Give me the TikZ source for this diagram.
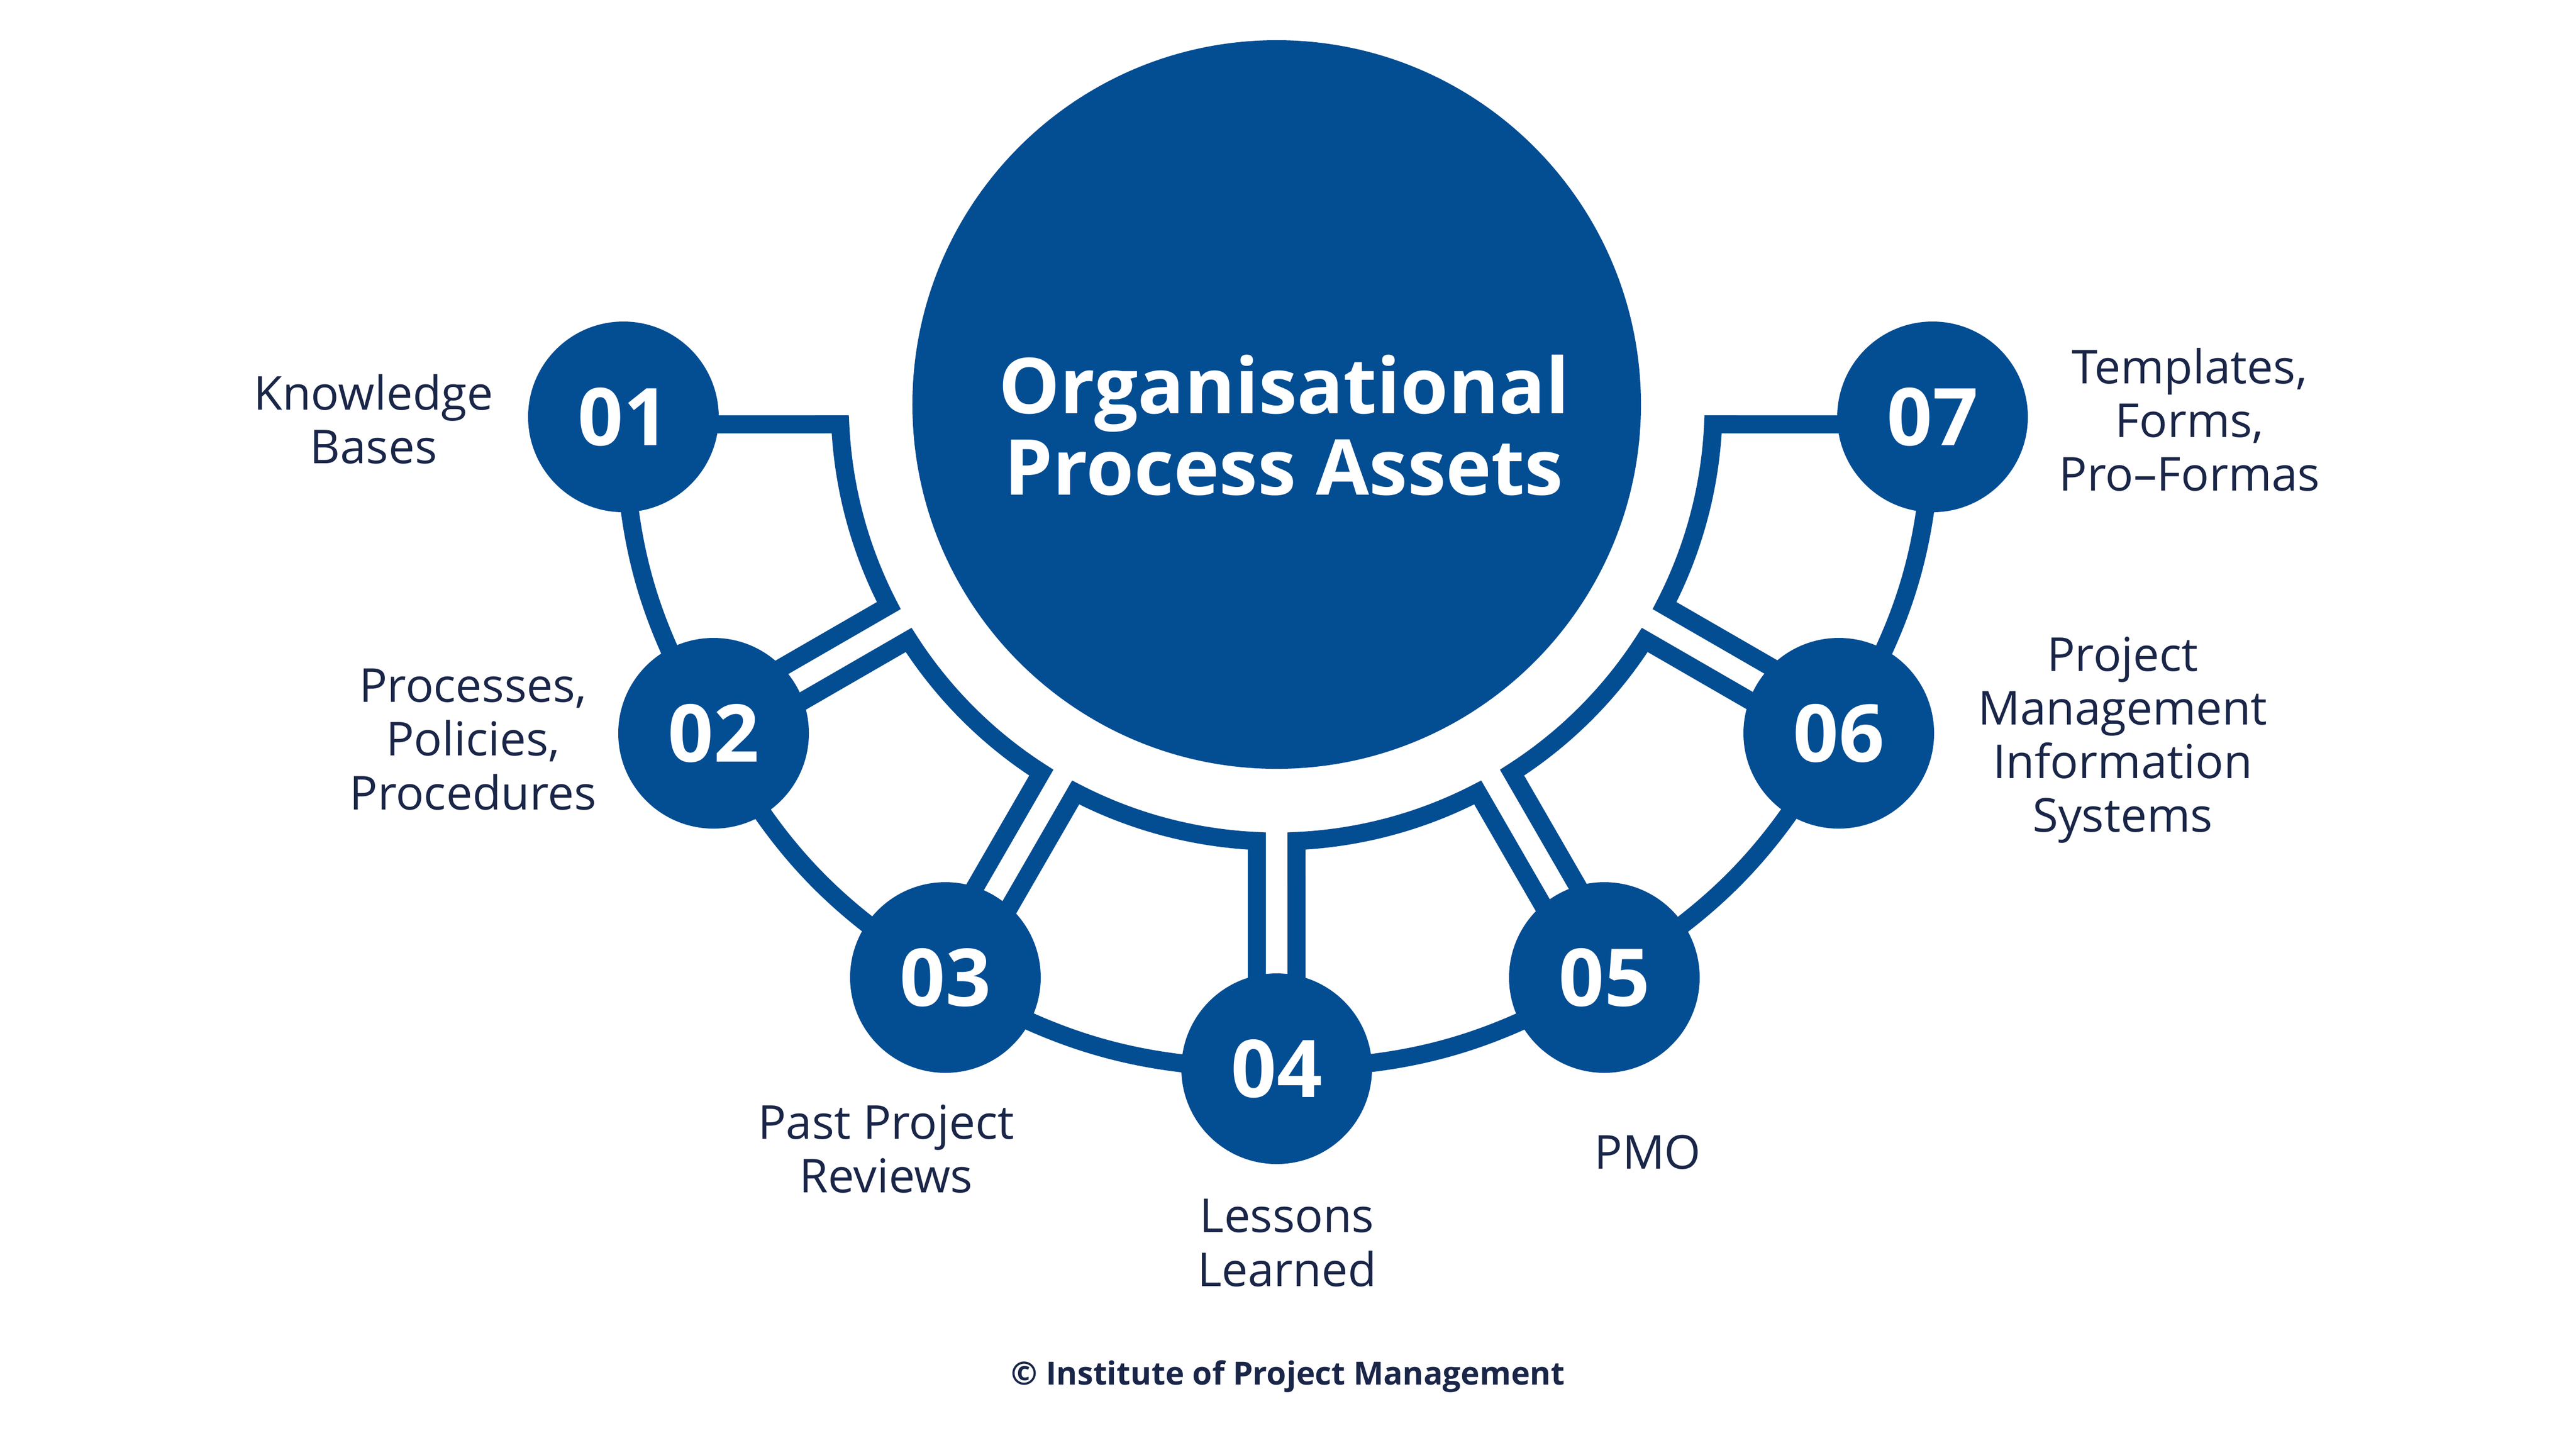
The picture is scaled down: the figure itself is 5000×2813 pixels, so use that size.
\documentclass[tikz,border=0pt]{standalone}
\usepackage{fontspec}
\setmainfont{Open Sans}
\usetikzlibrary{calc,backgrounds}

\definecolor{opablue}{RGB}{3,77,147}
\definecolor{opatext}{RGB}{26,38,72}

\begin{document}
\begin{tikzpicture}[x=0.05mm,y=0.05mm,
  ring/.style={draw=opablue,line width=1.75mm,line join=miter},
  numdot/.style={circle,fill=opablue,minimum size=18.5mm,inner sep=0pt,text=white,
    font=\fontsize{22}{22}\selectfont\bfseries},
  hub/.style={circle,fill=opablue,minimum size=70.7mm,inner sep=0pt,text=white,align=center,
    font=\fontsize{21.3}{22.5}\selectfont\bfseries},
  lbl/.style={align=center,text=opatext,inner sep=0pt,font=\fontsize{12.9}{14.8}\selectfont}]
\useasboundingbox (0,0) rectangle (5000,-2813);

% centre of the hub
\coordinate (c) at (2478,-785);
\node[hub] (hub) at (c) {};
\node[text=white,align=center,inner sep=0pt,font=\fontsize{21.3}{22.5}\selectfont\bfseries]
  (title) at (2492,-825) {Organisational\\Process Assets};

% numbered circles
\foreach \n/\x/\y in {1/1210/809,2/1385/1423,3/1835/1897,4/2478/2074,5/3114/1897,6/3569/1423,7/3751/809}
  \node[numdot] (n\n) at (\x,-\y) {0\n};

\begin{scope}[on background layer]
% outer ring
\foreach \i [evaluate=\i as \j using int(\i+1)] in {1,...,6}
  \draw[ring] (n\i.center) to[bend right=15] (n\j.center);
% spokes and inner ring, one cell for each pair
\foreach \a [count=\i] in {180,210,240,270,300,330}{
  \coordinate (s\i) at ($(c)+(\a:1275)+(\a+90:38.5)$);
  \coordinate (t\i) at ($(c)+(\a+30:1275)+(\a-60:38.5)$);
  \draw[ring] (s\i) -- ($(c)+(\a+2.6:848)$)
    arc[start angle=\a+2.6, end angle=\a+27.4, radius=848] -- (t\i);
}
\end{scope}

% labels
\node[lbl] (l1) at (725,-813) {Knowledge\\Bases};
\node[lbl] (l2) at (918,-1435) {Processes,\\Policies,\\Procedures};
\node[lbl] (l3) at (1720,-2230) {Past Project\\Reviews};
\node[lbl] (l4) at (2498,-2412) {Lessons\\Learned};
\node[lbl] (l5) at (3198,-2236) {PMO};
\node[lbl] (l6) at (4120,-1436) {Project\\Management\\Information\\Systems};
\node[lbl] (l7) at (4250,-814) {Templates,\\Forms,\\Pro–Formas};

\node[text=opatext,inner sep=0pt,font=\fontsize{8.8}{10}\selectfont\bfseries]
  (copy) at (2500,-2671) {© Institute of Project Management};
\end{tikzpicture}
\end{document}
